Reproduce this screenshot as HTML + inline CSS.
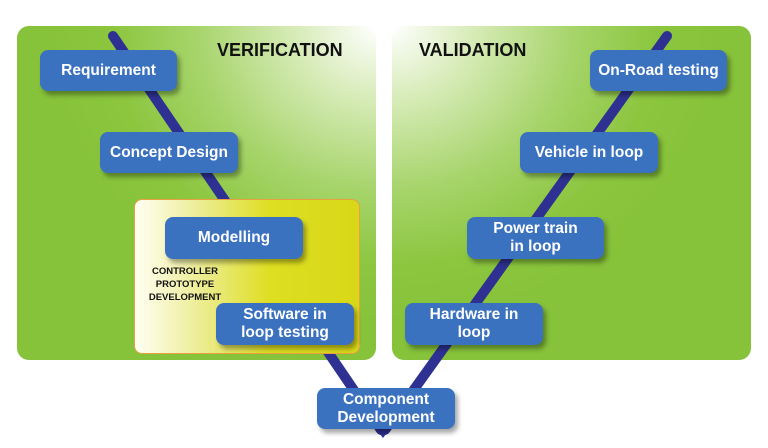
<!DOCTYPE html>
<html><head><style>
body{margin:0;width:768px;height:448px;background:#fff;position:relative;overflow:hidden;font-family:"Liberation Sans",sans-serif}
.p{position:absolute;top:26px;height:334px;width:359px;border-radius:12px}
.b{position:absolute;background:#3b72c0;color:#fff;font-weight:bold;font-size:15.5px;border-radius:8px;display:flex;align-items:center;justify-content:center;text-align:center;line-height:18px;box-shadow:3px 4px 5px rgba(0,0,0,0.35)}
.t{position:absolute;font-weight:bold;font-size:18px;color:#111}
</style></head><body>
<div class="p" style="left:17px;background:radial-gradient(ellipse 330px 300px at 100% 0%,#fff 0%,#d6ebb6 25%,#a6d46a 55%,#8cc63f 80%,#86c23a 100%)"></div>
<div class="p" style="left:392px;background:radial-gradient(ellipse 330px 300px at 0% 0%,#fff 0%,#d6ebb6 25%,#a6d46a 55%,#8cc63f 80%,#86c23a 100%)"></div>
<svg width="768" height="448" style="position:absolute;left:0;top:0">
<line x1="113" y1="36" x2="381" y2="430" stroke="#2e3192" stroke-width="10" stroke-linecap="round"/>
<line x1="667" y1="36" x2="385" y2="430" stroke="#2e3192" stroke-width="10" stroke-linecap="round"/>
<polygon points="377,430 389,430 383,438" fill="#2e3192"/>
</svg>
<div style="position:absolute;left:134px;top:199px;width:224px;height:153px;border:1px solid #e8a040;border-radius:8px;background:linear-gradient(90deg,#fffff4 0%,#ecec90 30%,#dede22 60%,#d8d818 100%)"></div>
<div class="t" style="left:217px;top:40px">VERIFICATION</div>
<div class="t" style="left:419px;top:40px">VALIDATION</div>
<div style="position:absolute;left:140px;top:265px;width:90px;text-align:center;font-size:9.5px;font-weight:bold;line-height:13px;color:#111">CONTROLLER PROTOTYPE DEVELOPMENT</div>
<div class="b" style="left:40px;top:50px;width:137px;height:41px">Requirement</div>
<div class="b" style="left:100px;top:132px;width:138px;height:41px">Concept Design</div>
<div class="b" style="left:165px;top:217px;width:138px;height:42px">Modelling</div>
<div class="b" style="left:216px;top:303px;width:138px;height:42px">Software in<br>loop testing</div>
<div class="b" style="left:317px;top:388px;width:138px;height:41px">Component<br>Development</div>
<div class="b" style="left:590px;top:50px;width:137px;height:41px">On-Road testing</div>
<div class="b" style="left:520px;top:132px;width:138px;height:41px">Vehicle in loop</div>
<div class="b" style="left:467px;top:217px;width:137px;height:42px">Power train<br>in loop</div>
<div class="b" style="left:405px;top:303px;width:138px;height:42px">Hardware in<br>loop</div>
</body></html>
